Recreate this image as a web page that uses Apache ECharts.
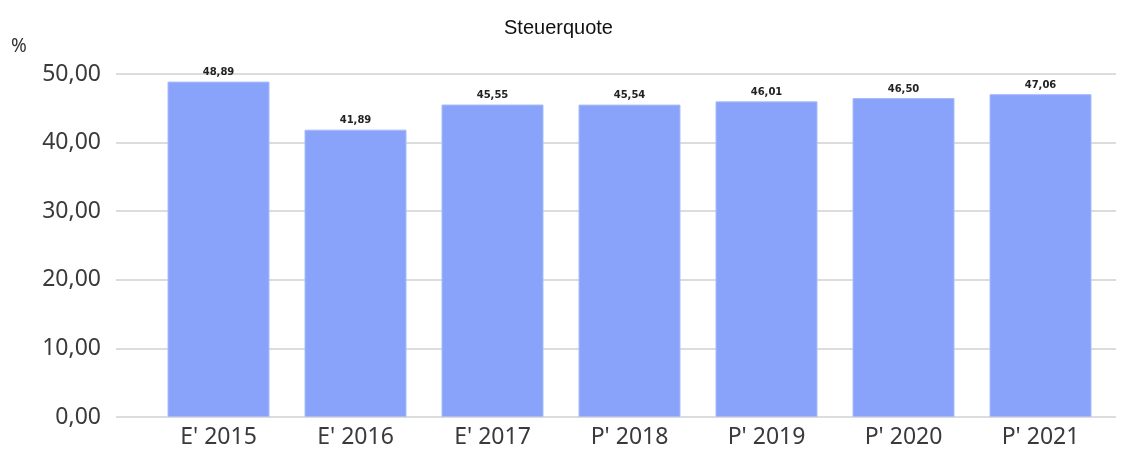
<!DOCTYPE html>
<html>
<head>
<meta charset="utf-8">
<script src="https://cdn.jsdelivr.net/npm/echarts@6/dist/echarts.min.js"></script>
<style>
  html, body { margin: 0; padding: 0; background: #fff; }
  #chart { width: 1128px; height: 450px; }
</style>
</head>
<body>
<div id="chart"></div>
<script>
// Steuerquote in %
var categories = ["E' 2015", "E' 2016", "E' 2017", "P' 2018", "P' 2019", "P' 2020", "P' 2021"];
var quote = [48.89, 41.89, 45.55, 45.54, 46.01, 46.50, 47.06];

function fmt(v) {
    return Number(v).toFixed(2).replace('.', ',');
}

var chart = echarts.init(document.getElementById('chart'));

var option = {
    animation: false,
    title: {
        text: 'Steuerquote',
        left: 499,
        top: 13,
        textStyle: { fontFamily: 'Liberation Sans', fontSize: 20, fontWeight: 'normal', color: '#111' }
    },
    graphic: [{
        type: 'text',
        left: 11,
        top: 37,
        style: { text: '%', font: '19px "Noto Sans"', fill: '#333' }
    }],
    // grid 0 carries the gridlines + y labels, grid 1 carries the bars
    grid: [
        { left: 116, right: 12, top: 74, bottom: 33 },
        { left: 150, right: 19, top: 74, bottom: 33 }
    ],
    xAxis: [
        { gridIndex: 0, type: 'category', data: [''], show: false },
        {
            gridIndex: 1,
            type: 'category',
            data: categories,
            axisLine: { show: false },
            axisTick: { show: false },
            axisLabel: { fontFamily: 'Noto Sans', fontSize: 23, color: '#3a3a3a', margin: 9 }
        }
    ],
    yAxis: [
        {
            gridIndex: 0,
            type: 'value',
            min: 0, max: 50, interval: 10,
            axisLine: { show: false },
            axisTick: { show: false },
            axisLabel: { fontFamily: 'Noto Sans', fontSize: 23, color: '#3a3a3a', margin: 15, formatter: fmt },
            splitLine: { lineStyle: { color: '#dcdcdc', width: 2 } }
        },
        { gridIndex: 1, type: 'value', min: 0, max: 50, interval: 10, show: false, splitLine: { show: false } }
    ],
    series: [{
        type: 'bar',
        xAxisIndex: 1,
        yAxisIndex: 1,
        data: quote,
        barWidth: 102,
        itemStyle: { color: '#88a3f9', borderColor: '#a8bcfb', borderWidth: 1 },
        label: {
            show: true,
            position: 'top',
            distance: 4,
            formatter: function (p) { return fmt(p.value); },
            fontFamily: 'DejaVu Sans',
            fontSize: 10,
            fontWeight: 'bold',
            color: '#222'
        }
    }]
};

chart.setOption(option);
</script>
</body>
</html>
